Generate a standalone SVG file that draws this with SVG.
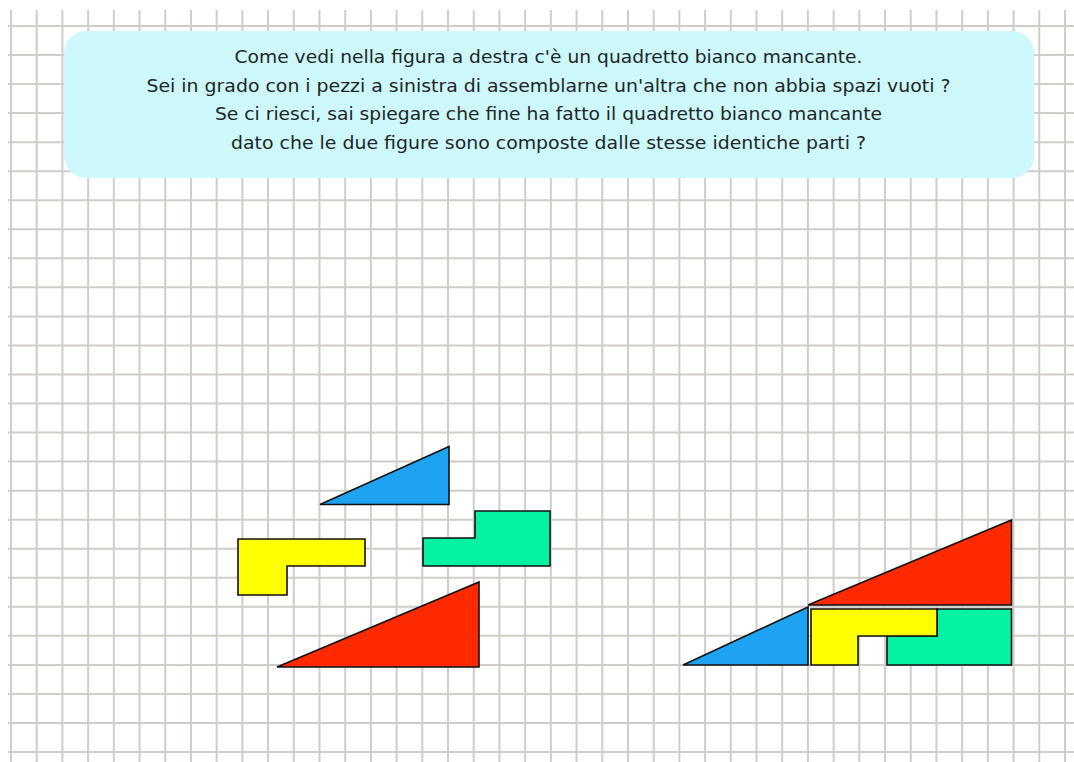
<svg xmlns="http://www.w3.org/2000/svg" width="1074" height="762" viewBox="0 0 1074 762">
  <style>
    .grid { stroke: #d0cdc9; stroke-width: 2; fill: none; }
    .piece { stroke: #111; stroke-width: 1.6; stroke-linejoin: miter; }
    .blue { fill: #1ea2f2; }
    .yellow { fill: #ffff00; }
    .green { fill: #05f2a2; }
    .red { fill: #ff2a00; }
    .txt { font-family: "DejaVu Sans Condensed", "DejaVu Sans", Verdana, sans-serif; font-size: 18px; fill: #1f2626; text-anchor: middle; }
  </style>
  <rect x="0" y="0" width="1074" height="762" fill="#ffffff"/>
  <g id="grid">
    <path class="grid" d="M11 10V762 M36.71 10V762 M62.41 10V762 M88.12 10V762 M113.83 10V762 M139.54 10V762 M165.24 10V762 M190.95 10V762 M216.66 10V762 M242.36 10V762 M268.07 10V762 M293.78 10V762 M319.48 10V762 M345.19 10V762 M370.9 10V762 M396.61 10V762 M422.31 10V762 M448.02 10V762 M473.73 10V762 M499.43 10V762 M525.14 10V762 M550.85 10V762 M576.55 10V762 M602.26 10V762 M627.97 10V762 M653.68 10V762 M679.38 10V762 M705.09 10V762 M730.8 10V762 M756.5 10V762 M782.21 10V762 M807.92 10V762 M833.62 10V762 M859.33 10V762 M885.04 10V762 M910.75 10V762 M936.45 10V762 M962.16 10V762 M987.87 10V762 M1013.57 10V762 M1039.28 10V762 M1064.99 10V762"/>
    <path class="grid" d="M8 26H1074 M8 55.04H1074 M8 84.08H1074 M8 113.12H1074 M8 142.16H1074 M8 171.2H1074 M8 200.24H1074 M8 229.28H1074 M8 258.32H1074 M8 287.36H1074 M8 316.4H1074 M8 345.44H1074 M8 374.48H1074 M8 403.52H1074 M8 432.56H1074 M8 461.6H1074 M8 490.64H1074 M8 519.68H1074 M8 548.72H1074 M8 577.76H1074 M8 606.8H1074 M8 635.84H1074 M8 664.88H1074 M8 693.92H1074 M8 722.96H1074 M8 752H1074"/>
  </g>
  <g id="message">
    <rect x="64" y="31" width="970" height="147" rx="22" ry="22" fill="#cdf8fc"/>
    <text class="txt" x="548.5" y="63" textLength="628" lengthAdjust="spacingAndGlyphs">Come vedi nella figura a destra c'è un quadretto bianco mancante.</text>
    <text class="txt" x="548.5" y="92" textLength="804" lengthAdjust="spacingAndGlyphs">Sei in grado con i pezzi a sinistra di assemblarne un'altra che non abbia spazi vuoti ?</text>
    <text class="txt" x="548.5" y="120" textLength="667" lengthAdjust="spacingAndGlyphs">Se ci riesci, sai spiegare che fine ha fatto il quadretto bianco mancante</text>
    <text class="txt" x="548.5" y="149" textLength="635" lengthAdjust="spacingAndGlyphs">dato che le due figure sono composte dalle stesse identiche parti ?</text>
  </g>
  <g id="left-pieces">
    <polygon id="left-blue" class="piece blue" points="320,504.5 449,446.5 449,504.5"/>
    <polygon id="left-yellow" class="piece yellow" points="238,539 365,539 365,566 287,566 287,595 238,595"/>
    <polygon id="left-green" class="piece green" points="423,538 475,538 475,511 550,511 550,566 423,566"/>
    <polygon id="left-red" class="piece red" points="277,667 479,582 479,667"/>
  </g>
  <g id="right-figure">
    <polygon id="right-red" class="piece red" points="808,605 1011.5,520 1011.5,605"/>
    <polygon id="right-blue" class="piece blue" points="683,665 808,607 808,665"/>
    <polygon id="right-green" class="piece green" points="887,636 937,636 937,609 1011.5,609 1011.5,665 887,665"/>
    <polygon id="right-yellow" class="piece yellow" points="811,609 937,609 937,636 858,636 858,665 811,665"/>
  </g>
</svg>
